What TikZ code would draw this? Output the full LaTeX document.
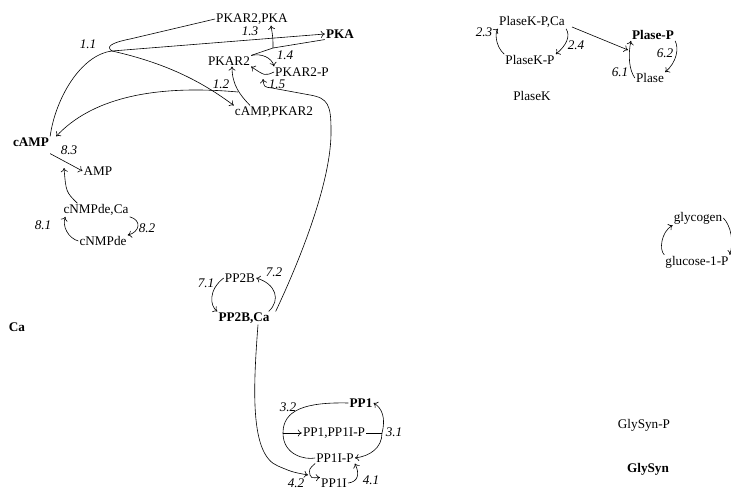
\documentclass[tikz,border=0pt]{standalone}
\usepackage{fontspec}
\setmainfont{Liberation Serif}
\usepackage{tikz}
\usetikzlibrary{arrows.meta,calc}

\tikzset{
  mol/.style={inner sep=1pt,font=\fontsize{13.2}{15}\selectfont},
  molb/.style={mol,font=\fontsize{13.2}{15}\selectfont\bfseries},
  rlabel/.style={inner sep=0pt,font=\fontsize{13.2}{15}\selectfont\itshape},
  link/.style={line width=0.6pt},
  rxn/.style={link,-{To[length=4pt,width=7pt]}},
}

\begin{document}
\begin{tikzpicture}[x=1pt,y=-1pt]
  \useasboundingbox (0,0) rectangle (731,493);

  % PKA
  \node[mol]  (pkar2pka) at (252,19)  {PKAR2,PKA};
  \node[molb] (pka)      at (340,34)  {PKA};
  \node[mol]  (pkar2)    at (229,61)  {PKAR2};
  \node[mol]  (pkar2p)   at (302,72)  {PKAR2-P};
  \node[mol]  (campkar2) at (274,112) {cAMP,PKAR2};
  \node[molb] (camp)     at (31,142)  {cAMP};
  \node[mol]  (amp)      at (98,171)  {AMP};
  \node[mol]  (cnmpdeca) at (96,210)  {cNMPde,Ca};
  \node[mol]  (cnmpde)   at (103,241) {cNMPde};
  \node[molb] (ca)       at (17,327)  {Ca};
  % PP2B and PP1
  \node[mol]  (pp2b)     at (240,278) {PP2B};
  \node[molb] (pp2bca)   at (244,318) {PP2B,Ca};
  \node[molb] (pp1)      at (361,403) {PP1};
  \node[mol]  (pp1pp1ip) at (334,433) {PP1,PP1I-P};
  \node[mol]  (pp1ip)    at (335,458) {PP1I-P};
  \node[mol]  (pp1i)     at (334,483) {PP1I};
  % phosphorylase
  \node[mol]  (plasekpca) at (532,22) {PlaseK-P,Ca};
  \node[mol]  (plasekp)   at (530,60) {PlaseK-P};
  \node[mol]  (plasek)    at (532,96) {PlaseK};
  \node[molb] (plasep)    at (653,35) {Plase-P};
  \node[mol]  (plase)     at (650,78) {Plase};
  \node[mol]  (glycogen)  at (698,218) {glycogen};
  \node[mol]  (g1p)       at (697,262) {glucose-1-P};
  \node[mol]  (glysynp)   at (644,425) {GlySyn-P};
  \node[molb] (glysyn)    at (648,469) {GlySyn};

  % reaction numbers
  \foreach \lab/\px/\py in {1.1/88/44,1.2/221/84,1.3/250/31,1.4/285/55,1.5/277/84,
      8.3/69/150,8.1/43/225,8.2/147/228,7.1/206/283,7.2/274/272,
      3.2/288/407,3.1/394/432,4.2/296/483,4.1/371/480,
      2.3/484/32,2.4/576/45,6.1/620/72,6.2/665/53}
    \node[rlabel] (r\lab) at (\px,\py) {\lab};

  % junctions and enzyme ends
  \coordinate (k11) at (112,51);
  \coordinate (j12) at (238,92);
  \coordinate (j13) at (273,48);
  \coordinate (e15) at (263,79);
  \coordinate (e83) at (64,168);
  \coordinate (j32) at (283,433);
  \coordinate (j31) at (382,433);
  \coordinate (j42) at (310,475);
  \coordinate (e61) at (628,50);

  % 1.1
  \draw[link] (camp.north east) .. controls (55,100) and (80,55) .. (k11);
  \draw[link] (k11) .. controls (106,47) and (110,43) .. (130,39) -- (pkar2pka.west);
  \draw[rxn] (k11) -- (pka.west);
  \draw[rxn] (k11) .. controls (170,64) and (205,84) .. (campkar2.north west);
  % 1.2
  \draw[rxn] ([xshift=-24pt]campkar2.north) .. controls (240,95) and (232,85) .. ([xshift=3pt]pkar2.south);
  \draw[rxn] (j12) .. controls (150,84) and (90,100) .. ([xshift=6pt]camp.north east);
  % 1.3
  \draw[link] (pkar2.north east) -- (j13) -- (pka.south west);
  \draw[rxn] (j13) .. controls (273,38) .. ([xshift=19pt]pkar2pka.south);
  % 1.4
  \draw[rxn] (pkar2.north east) .. controls (262,53) and (272,58) .. (pkar2p.north west);
  % 1.5
  \draw[rxn] (pkar2p.west) .. controls (265,76) .. (pkar2.south east);
  \draw[rxn] ([xshift=5pt]pp2bca.north east) .. controls (300,260) and (332,180) .. (331,130)
    .. controls (331,105) and (328,98) .. (310,95) -- (272,88) .. controls (264,87) .. (e15);

  % 8.x
  \draw[rxn] ($(camp.south east)+(0,6)$) -- (amp.west);
  \draw[rxn] ([xshift=15pt]cnmpdeca.north west) .. controls (66,192) .. (e83);
  \draw[rxn] (cnmpde.west) .. controls (68,238) and (62,226) .. ([xshift=3pt]cnmpdeca.south west);
  \draw[rxn] (cnmpdeca.south east) .. controls (142,220) and (140,232) .. (cnmpde.north east);

  % 7.x
  \draw[rxn] (pp2b.west) .. controls (208,290) and (210,306) .. (pp2bca.north west);
  \draw[rxn] ([xshift=-2pt]pp2bca.north east) .. controls (281,300) and (276,284) .. (pp2b.east);

  % 3.x
  \draw[link] (pp1.west) .. controls (305,402) and (283,410) .. (j32);
  \draw[link] (pp1ip.west) .. controls (305,460) and (283,455) .. (j32);
  \draw[rxn] (j32) -- (pp1pp1ip.west);
  \draw[link] (pp1pp1ip.east) -- (j31);
  \draw[rxn] (j31) .. controls (386,418) and (382,408) .. (pp1.east);
  \draw[rxn] (j31) .. controls (382,448) and (370,456) .. (pp1ip.east);

  % 4.x
  \draw[link] (pp1ip.south west) .. controls (309,469) .. (j42);
  \draw[rxn] (j42) .. controls (311,478) .. (pp1i.north west);
  \draw[rxn] ([xshift=14pt]pp2bca.south) .. controls (253,390) and (250,455) .. (278,466)
    .. controls (292,472) .. ([xshift=-2pt]j42);
  \draw[rxn] (pp1i.east) .. controls (358,482) and (360,474) .. (pp1ip.south east);

  % 2.x and 6.x
  \draw[rxn] (plasekp.north west) .. controls (495,46) and (495,32) .. (plasekpca.south west);
  \draw[rxn] (plasekpca.south east) .. controls (571,36) and (566,46) .. (plasekp.north east);
  \draw[rxn] ($(plasekpca.east)+(6,5)$) -- (e61);
  \draw[rxn] (plase.west) .. controls (629,70) and (628,55) .. (plasep.south west);
  \draw[rxn] (plasep.south east) .. controls (679,48) and (677,62) .. (plase.north east);

  % glycogen
  \draw[rxn] (g1p.north west) .. controls (659,250) and (661,232) .. (glycogen.south west);
  \draw[rxn] (glycogen.east) .. controls (731,226) and (734,242) .. (g1p.north east);
\end{tikzpicture}
\end{document}
